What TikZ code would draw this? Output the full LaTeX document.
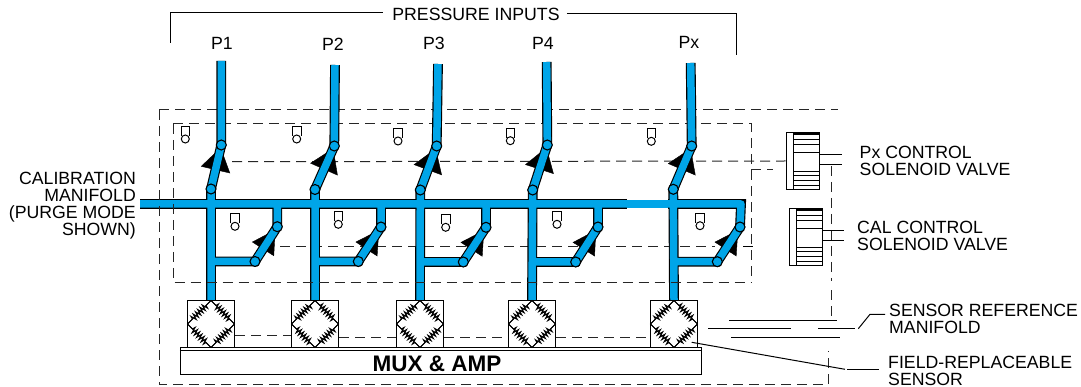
\documentclass[tikz,border=0pt]{standalone}
\usepackage{fontspec}
\setmainfont{Liberation Sans}
\usetikzlibrary{arrows.meta,backgrounds,decorations.pathmorphing}
\definecolor{pipeblue}{HTML}{00A5E8}
\tikzset{
  bridge/.pic={
    \draw[line width=0.9pt] (0,-23.5) -- (23.5,0) -- (0,23.5) -- (-23.5,0) -- cycle;
    \draw[arm] (0,-23.5) -- (23.5,0);
    \draw[arm] (23.5,0) -- (0,23.5);
    \draw[arm] (0,23.5) -- (-23.5,0);
    \draw[arm] (-23.5,0) -- (0,-23.5);
  },
  plug/.pic={
    \draw[line width=1pt] (-4.3,-3) -- (-4.3,-12.3) -- (4.3,-12.3) -- (4.3,-3);
    \draw[line width=1pt, fill=white] (0,0) circle (4);
  },
  coil/.pic={
    \draw[line width=1pt] (-9.3,-28.6) -- (-9.3,28.6);
    \draw[line width=2.4pt] (-9.3,-27.4) -- (16.6,-27.4);
    \draw[line width=1pt] (-9.3,-21.3) -- (16.6,-21.3);
    \draw[line width=1pt] (-9.3,-16.3) -- (16.6,-16.3);
    \draw[line width=1pt] (-9.3,-8.9) -- (16.6,-8.9);
    \draw[line width=1pt] (-9.3,10.4) -- (16.6,10.4);
    \draw[line width=1pt] (-9.3,14.7) -- (16.6,14.7);
    \draw[line width=1pt] (-9.3,19.4) -- (16.6,19.4);
    \draw[line width=1pt] (-9.3,24.4) -- (16.6,24.4);
  }
}
\begin{document}
\begin{tikzpicture}[
  x=1pt, y=-1pt,
  lbl/.style={font=\fontsize{17.7}{17}\selectfont, inner sep=0pt, align=left},
  joint/.style={circle, draw, fill=pipeblue, line width=1.1pt, minimum size=10pt, inner sep=0pt},
  sensor/.style={draw, line width=1.2pt, minimum size=47pt, inner sep=0pt},
  solenoid/.style={draw, line width=1pt, minimum width=33.3pt, minimum height=57.3pt, inner sep=0pt},
  pipe/.style={draw=pipeblue, line width=7.5pt, line join=round, preaction={draw=black, line width=9.8pt}},
  valvetip/.style={-{Triangle[length=23pt,width=30pt]}, shorten >=-3pt, thin},
  caltip/.style={-{Triangle[length=23pt,width=26pt]}, shorten >=-2pt, thin},
  ctrl/.style={line width=1pt, black!85, dash pattern=on 10pt off 6pt},
  wire/.style={line width=1pt},
  arm/.style={line width=1pt, decorate, decoration={zigzag, segment length=3.2pt, amplitude=3pt, pre length=7pt, post length=7pt}}
]
  \useasboundingbox (0,0) rectangle (1081,387);

  \node[lbl, anchor=center] (inputs) at (476,14) {PRESSURE INPUTS};
  \node[lbl, anchor=center] (p1) at (222,43) {P1};
  \node[lbl, anchor=center] (p2) at (333,44) {P2};
  \node[lbl, anchor=center] (p3) at (434,43) {P3};
  \node[lbl, anchor=center] (p4) at (543,43) {P4};
  \node[lbl, anchor=center] (px) at (689,42) {Px};
  \node[lbl, align=right, anchor=east] (cal) at (136,205.5) {CALIBRATION\\MANIFOLD\\(PURGE MODE\\SHOWN)};
  \node[lbl, anchor=west] (pxlabel) at (859.5,160.5) {Px CONTROL\\SOLENOID VALVE};
  \node[lbl, anchor=west] (callabel) at (857,236) {CAL CONTROL\\SOLENOID VALVE};
  \node[lbl, anchor=west] (reflabel) at (889,318.5) {SENSOR REFERENCE\\MANIFOLD};
  \node[lbl, anchor=west] (fieldlabel) at (888,370.5) {FIELD-REPLACEABLE\\SENSOR};

  \node[sensor] (s1) at (211,324) {};
  \node[sensor] (s2) at (315,324) {};
  \node[sensor] (s3) at (420,324) {};
  \node[sensor] (s4) at (532,324) {};
  \node[sensor] (s5) at (674,324) {};
  \pic at (s1) {bridge};
  \pic at (s2) {bridge};
  \pic at (s3) {bridge};
  \pic at (s4) {bridge};
  \pic at (s5) {bridge};

  \node[draw, line width=1.1pt, minimum width=520.7pt, minimum height=26.6pt, inner sep=0pt] (mux) at (440.7,361) {};
  \node[font=\fontsize{22.5}{22.5}\selectfont\bfseries, inner sep=0pt] (muxlabel) at (437,364) {MUX \& AMP};
  \draw[wire] (mux.north west |- 0,350.7) -- (mux.north east |- 0,350.7);

  \node[solenoid] (sol1) at (802.7,161.3) {};
  \node[solenoid] (sol2) at (806,237) {};
  \pic at (sol1) {coil};
  \pic at (sol2) {coil};

  \node[joint] (vu1) at (221.3,145) {};
  \node[joint] (vu2) at (334.3,146) {};
  \node[joint] (vu3) at (436.7,146) {};
  \node[joint] (vu4) at (547.3,145) {};
  \node[joint] (vu5) at (691.7,146) {};
  \node[joint] (vl1) at (211,189) {};
  \node[joint] (vl2) at (315,189.5) {};
  \node[joint] (vl3) at (420.3,190) {};
  \node[joint] (vl4) at (532.7,190) {};
  \node[joint] (vl5) at (673.3,189.3) {};
  \node[joint] (cu1) at (277.3,226.7) {};
  \node[joint] (cu2) at (381,227) {};
  \node[joint] (cu3) at (486,227.3) {};
  \node[joint] (cu4) at (598,227) {};
  \node[joint] (cu5) at (740,227) {};
  \node[joint] (cl1) at (255,261.5) {};
  \node[joint] (cl2) at (358.3,261.5) {};
  \node[joint] (cl3) at (463.3,262) {};
  \node[joint] (cl4) at (575.7,262) {};
  \node[joint] (cl5) at (717.3,261.7) {};

  \coordinate (top1) at (221.3,61);
  \coordinate (top2) at (335,65);
  \coordinate (top3) at (438,64);
  \coordinate (top4) at (546.7,62);
  \coordinate (top5) at (690.7,63);
  \coordinate (calin) at (140,204);
  \coordinate (calend) at (741,204);
  \coordinate (gapa) at (627,204);
  \coordinate (gapb) at (668,204);

  \begin{pgfonlayer}{background}
    \draw[ctrl] (159.3,110) -- (838,110);
    \draw[ctrl] (173.3,124) -- (751,124) -- (751,282.7);
    \draw[ctrl] (232,161.7) -- (sol1.west |- 0,161);
    \draw[ctrl] (280,247) -- (715,247);
    \draw[wire] (743,247) -- (753,247);

    \draw[valvetip] (vl1) -- (vu1);
    \draw[valvetip] (vl2) -- (vu2);
    \draw[valvetip] (vl3) -- (vu3);
    \draw[valvetip] (vl4) -- (vu4);
    \draw[valvetip] (vl5) -- (vu5);
    \draw[caltip] (cl1) -- (cu1);
    \draw[caltip] (cl2) -- (cu2);
    \draw[caltip] (cl3) -- (cu3);
    \draw[caltip] (cl4) -- (cu4);
    \draw[caltip] (cl5) -- (cu5);

    \draw[pipe] (calin) -- (calend) -- (cu5.center)
      (top1) -- (vu1.center) -- (vl1.center) -- (s1.north)
      (top2) -- (vu2.center) -- (vl2.center) -- (s2.north)
      (top3) -- (vu3.center) -- (vl3.center) -- (s3.north)
      (top4) -- (vu4.center) -- (vl4.center) -- (s4.north)
      (top5) -- (vu5.center) -- (vl5.center) -- (s5.north)
      (cu1 |- calin) -- (cu1.center) -- (cl1.center) -- (vl1 |- cl1)
      (cu2 |- calin) -- (cu2.center) -- (cl2.center) -- (vl2 |- cl2)
      (cu3 |- calin) -- (cu3.center) -- (cl3.center) -- (vl3 |- cl3)
      (cu4 |- calin) -- (cu4.center) -- (cl4.center) -- (vl4 |- cl4)
      (cu5.center) -- (cl5.center) -- (vl5 |- cl5);
    \draw[white, line width=10pt] (gapa) -- (gapb);
    \draw[pipeblue, line width=7.5pt] (gapa) -- (gapb);
  \end{pgfonlayer}

  \draw[ctrl] (173.3,124) -- (173.3,282.7) -- (751,282.7);
  \draw[ctrl] (159.3,110) -- (159.3,384) -- (827,384);
  \draw[ctrl] (828.3,384) -- (828.3,351);
  \draw[ctrl] (831,166) -- (831,281);
  \draw[ctrl] (831,290) -- (831,320);
  \draw[ctrl] (751,170) -- (773,170);
  \draw[ctrl] ([yshift=-11.7pt]s1.east) -- ([yshift=-11.7pt]s2.west);
  \draw[ctrl] ([yshift=-13.7pt]s2.east) -- ([yshift=-13.7pt]s3.west);
  \draw[ctrl] ([yshift=-13.7pt]s3.east) -- ([yshift=-13.7pt]s4.west);
  \draw[ctrl] ([yshift=-13.7pt]s4.east) -- ([yshift=-13.7pt]s5.west);

  \pic at (185.3,139) {plug};
  \pic at (296.7,139) {plug};
  \pic at (398,141) {plug};
  \pic at (510.3,140.7) {plug};
  \pic at (651.3,141.3) {plug};
  \pic at (235,226.3) {plug};
  \pic at (338.3,224.3) {plug};
  \pic at (445.7,227.3) {plug};
  \pic at (557,224.3) {plug};
  \pic at (700,225.7) {plug};

  \draw[wire] (170.7,43) -- (170.7,12.7) -- ([xshift=-9pt]inputs.west |- 0,12.7);
  \draw[wire] ([xshift=7pt]inputs.east |- 0,14) -- (736,14) -- (736,55);

  \draw[wire] (819.3,154.3) -- (841.7,154.3);
  \draw[wire] (819.3,164.7) -- (841.7,164.7);
  \draw[wire] (822.7,230.3) -- (844,230.3);
  \draw[wire] (822.7,240.3) -- (844,240.3);

  \draw[wire] (729,320) -- (836.7,320);
  \draw[wire] (708.3,328) -- (790.7,328);
  \draw[wire] (818.3,328) -- (855,328);
  \draw[wire] (731,337.7) -- (840,337.7);
  \draw[wire] (858.3,328.7) -- (870,314.3) -- (885,314.3);
  \draw[wire] (691.7,342.3) -- (845,369.3);
  \draw[wire] (847.3,369.3) -- (879,369.3);
\end{tikzpicture}
\end{document}
